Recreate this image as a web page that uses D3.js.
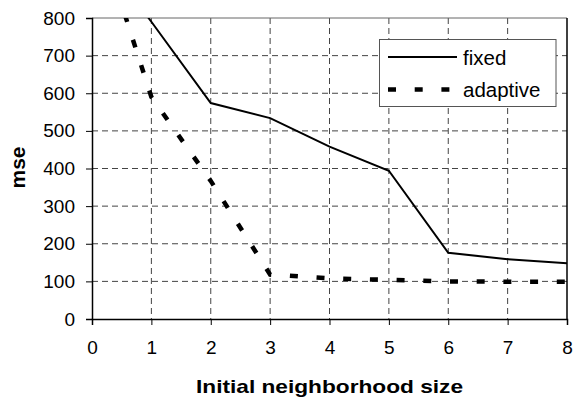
<!DOCTYPE html>
<html>
<head>
  <meta charset="utf-8">
  <script src="https://d3js.org/d3.v7.min.js"></script>
  <style>
    body { margin: 0; background: #fff; }
    svg { display: block; font-family: "Liberation Sans", Arial, sans-serif; }
  </style>
</head>
<body>
  <div id="chart"></div>
  <script>
    // data
    var sizes = [0, 1, 2, 3, 4, 5, 6, 7, 8];
    var fixedMse = [1000, 790, 574, 534, 458, 394, 176, 159, 148];
    var adaptiveMse = [1080, 590, 367, 118, 108, 104, 100, 99, 99];
    var xTicks = [0, 1, 2, 3, 4, 5, 6, 7, 8];
    var yTicks = [0, 100, 200, 300, 400, 500, 600, 700, 800];
    var seriesNames = ["fixed", "adaptive"];

    var width = 573, height = 399;
    var margin = { left: 92, right: 6, top: 18, bottom: 80 };

    var svg = d3.select("#chart").append("svg")
      .attr("width", width)
      .attr("height", height);

    var x = d3.scaleLinear().domain([0, 8]).range([margin.left, width - margin.right]);
    var y = d3.scaleLinear().domain([0, 800]).range([height - margin.bottom, margin.top]);

    // grid
    var grid = svg.append("g")
      .attr("stroke", "#444")
      .attr("stroke-width", 1)
      .attr("stroke-dasharray", "6,4");

    grid.selectAll(".vg").data(xTicks.filter(d => d > 0 && d < 8)).enter().append("line")
      .attr("x1", d => x(d)).attr("x2", d => x(d))
      .attr("y1", y(800)).attr("y2", y(0));

    grid.selectAll(".hg").data(yTicks.filter(d => d > 0 && d < 800)).enter().append("line")
      .attr("x1", x(0)).attr("x2", x(8))
      .attr("y1", d => y(d)).attr("y2", d => y(d));

    // frame top/right
    svg.append("line").attr("x1", x(0)).attr("x2", x(8)).attr("y1", y(800)).attr("y2", y(800))
      .attr("stroke", "#666").attr("stroke-width", 1);
    svg.append("line").attr("x1", x(8)).attr("x2", x(8)).attr("y1", y(800)).attr("y2", y(0))
      .attr("stroke", "#000").attr("stroke-width", 1.5);

    // axes
    var xAxis = svg.append("g")
      .attr("transform", "translate(0," + y(0) + ")")
      .call(d3.axisBottom(x).tickValues(xTicks).tickFormat(d3.format("d")).tickSize(6).tickPadding(16));
    var yAxis = svg.append("g")
      .attr("transform", "translate(" + x(0) + ",0)")
      .call(d3.axisLeft(y).tickValues(yTicks).tickFormat(d3.format("d")).tickSize(6).tickPadding(10));

    [xAxis, yAxis].forEach(function (a) {
      a.select(".domain").attr("stroke", "#000").attr("stroke-width", 1.5);
      a.selectAll(".tick line").attr("stroke", "#000").attr("stroke-width", 1);
      a.selectAll(".tick text")
        .attr("fill", "#000")
        .style("font-family", "'Liberation Sans', Arial, sans-serif")
        .style("font-size", "19px");
    });
    yAxis.selectAll(".tick text").attr("x", -17);

    // lines, clipped to plot
    svg.append("clipPath").attr("id", "plot")
      .append("rect")
      .attr("x", x(0)).attr("y", y(800))
      .attr("width", x(8) - x(0)).attr("height", y(0) - y(800));

    var line = d3.line().x((d, i) => x(sizes[i])).y(d => y(d));

    var plot = svg.append("g").attr("clip-path", "url(#plot)");

    plot.append("path")
      .datum(adaptiveMse)
      .attr("d", line)
      .attr("fill", "none")
      .attr("stroke", "#000")
      .attr("stroke-width", 4.5)
      .attr("stroke-dasharray", "8,18.7");

    plot.append("path")
      .datum(fixedMse)
      .attr("d", line)
      .attr("fill", "none")
      .attr("stroke", "#000")
      .attr("stroke-width", 2);

    // legend
    var legend = svg.append("g");
    legend.append("rect")
      .attr("x", 379.5).attr("y", 39.5)
      .attr("width", 176.5).attr("height", 67)
      .attr("fill", "#fff")
      .attr("stroke", "#555")
      .attr("stroke-width", 1);

    var styles = [
      { w: 2, dash: null },
      { w: 4.5, dash: "8,18.7" }
    ];
    seriesNames.forEach(function (name, i) {
      var ly = 57 + i * 32.5;
      legend.append("line")
        .attr("x1", 388).attr("x2", 457)
        .attr("y1", ly).attr("y2", ly)
        .attr("stroke", "#000")
        .attr("stroke-width", styles[i].w)
        .attr("stroke-dasharray", styles[i].dash);
      legend.append("text")
        .attr("x", 463).attr("y", ly + 7.5)
        .style("font-size", "20.5px")
        .text(name);
    });

    // axis titles
    svg.append("text")
      .attr("x", (x(0) + x(8)) / 2)
      .attr("y", 393)
      .attr("text-anchor", "middle")
      .attr("textLength", 267)
      .attr("lengthAdjust", "spacingAndGlyphs")
      .style("font-size", "19px")
      .style("font-weight", "bold")
      .text("Initial neighborhood size");

    svg.append("text")
      .attr("transform", "translate(25," + 167.5 + ") rotate(-90)")
      .attr("text-anchor", "middle")
      .style("font-size", "21px")
      .style("font-weight", "bold")
      .text("mse");
  </script>
</body>
</html>
